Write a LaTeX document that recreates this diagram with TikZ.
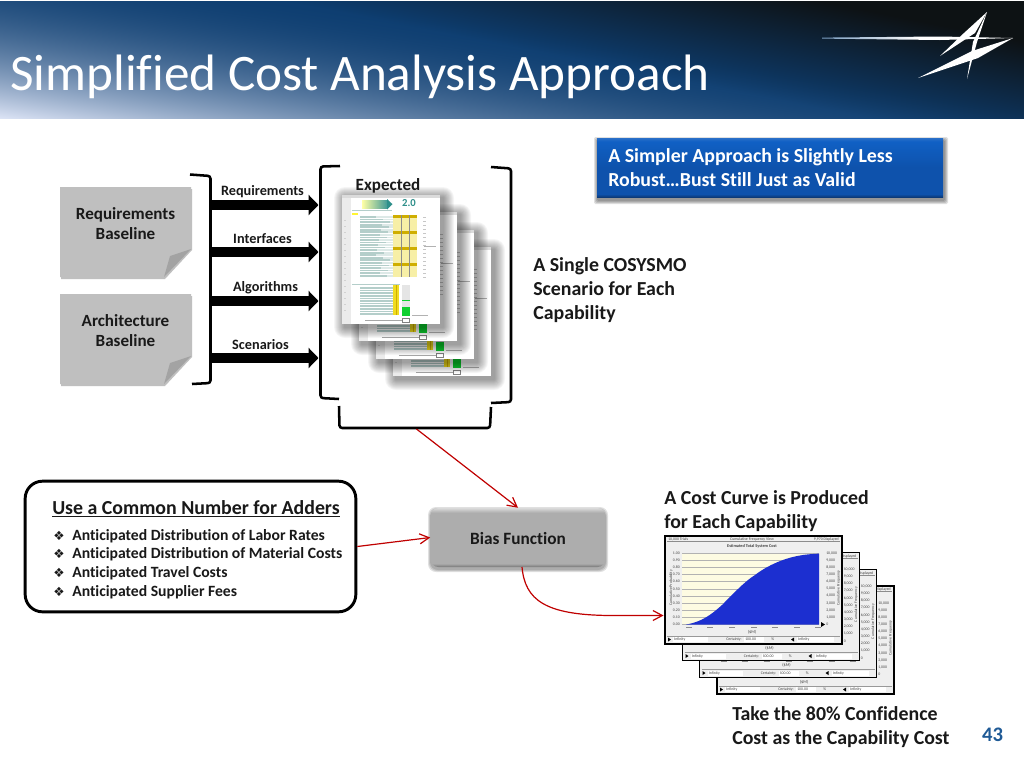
\documentclass[tikz,border=0pt]{standalone}
\usepackage{fontspec}
\setmainfont[Ligatures=CommonOff]{Carlito}
\newfontfamily\dejavu{DejaVu Sans}
\usetikzlibrary{arrows.meta,shapes.geometric}
\definecolor{notegray}{HTML}{BFBFBF}
\definecolor{foldgray}{HTML}{A3A3A3}
\definecolor{redline}{HTML}{C00000}
\definecolor{pageblue}{HTML}{1F5A96}
\definecolor{rowteal}{HTML}{B4CECA}
\definecolor{paleyellow}{HTML}{F7EFA6}
\definecolor{darkyellow}{HTML}{CFAE00}
\definecolor{brightyellow}{HTML}{F0DC20}
\definecolor{sheetgreen}{HTML}{10D030}
\definecolor{tealtext}{HTML}{2E8F8A}
\definecolor{ivory}{HTML}{FDFBE2}
\definecolor{barblue}{HTML}{1C2FD0}
\definecolor{chartgray}{HTML}{EFEFEF}
\definecolor{bevelgrayb}{HTML}{777777}
\definecolor{bevelgraym}{HTML}{ADADAD}
\definecolor{bevelgrayt}{HTML}{DADADA}
\definecolor{bevelblueb}{HTML}{0C3A78}
\definecolor{bevelbluem}{HTML}{0E52AC}
\definecolor{bevelbluen}{HTML}{1060C4}
\definecolor{bevelbluet}{HTML}{2A70C8}
% header: x y (pt) -> r g b
\pgfdeclarefunctionalshading{hdrshade}{\pgfpointorigin}{\pgfpoint{768pt}{88.5pt}}{}{
  2 copy 127.5 div exch 825 div add 1 exch sub dup 0 lt {pop 0} if dup mul
  3 1 roll
  80 div exch 250 sub 400 div add 1 sub dup 0 lt {pop 0} if dup 1 gt {pop 1} if
  dup 0.0 mul 0.05 add 2 index 1 exch sub mul 2 index 0.86 mul add
  1 index -0.17 mul 0.24 add 3 index 1 exch sub mul 3 index 0.89 mul add
  2 index -0.36 mul 0.44 add 4 index 1 exch sub mul 4 index 0.96 mul add
  5 -2 roll pop pop
}
\pgfdeclareverticalshading{bevelgray}{100bp}{
  color(0bp)=(bevelgrayb); color(25bp)=(bevelgrayb); color(28bp)=(bevelgraym);
  color(71bp)=(bevelgraym); color(75bp)=(bevelgrayt); color(100bp)=(bevelgrayt)}
\pgfdeclareverticalshading{bevelblue}{100bp}{
  color(0bp)=(bevelblueb); color(25bp)=(bevelblueb); color(27.5bp)=(bevelbluem);
  color(50bp)=(bevelbluem); color(72bp)=(bevelbluen); color(75bp)=(bevelbluet); color(100bp)=(bevelbluet)}
\tikzset{
  x=0.75pt,y=-0.75pt,
  bracket/.style={draw=black,line width=1.9pt,rounded corners=2pt},
  blockarrow/.style={line width=7.5pt,-{Triangle[width=15pt,length=7.5pt]},shorten >=0pt},
  redarrow/.style={draw=redline,line width=0.9pt,-{Straight Barb[length=7pt,width=7.5pt]}},
  boldtext/.style={font=\fontsize{14.9pt}{18pt}\selectfont\bfseries,text=black!90,inner sep=0pt},
  flowlabel/.style={font=\fontsize{10.7pt}{12pt}\selectfont\bfseries,text=black!90,inner sep=0pt},
  notelabel/.style={font=\fontsize{12.8pt}{15.6pt}\selectfont\bfseries,text=black!90,inner sep=0pt,align=center},
  bullettext/.style={font=\fontsize{11.75pt}{13pt}\selectfont\bfseries,text=black!90,inner sep=0pt,anchor=base west},
  tiny/.style={font=\fontsize{2.9pt}{3.2pt}\selectfont,text=black!75,inner sep=0pt},
}
\newif\iffrontchart
% sheet of the spreadsheet stack
\newcommand{\rowsheet}{%
  \foreach \s in {11,10,...,1}{\fill[black,opacity=0.04,rounded corners=0.75*\s pt] (345-\s,198-\s) rectangle (443+\s,327+\s);}
  \fill[white] (342,195) rectangle (440,324);
  \fill[black!14] (342,195) rectangle (440,198);
  \fill[black!8] (342,198) rectangle (351,324);
  \draw[rowteal,line width=0.7pt] (352,210) -- (392,210);
  \fill[yellow!80!white] (352,213) rectangle (358,215);
  \shade[left color=yellow!35!white,right color=tealtext!90] (362,200.5) rectangle (387,208);
  \fill[tealtext] (387,199) -- (392.5,204.2) -- (387,209.5) -- cycle;
  \fill[paleyellow] (393,215) rectangle (417,277);
  \foreach \yy in {215,231,247,263}{\fill[darkyellow] (393,\yy) rectangle (417,\yy+2.8);}
  \foreach \xx in {401,409}{\draw[black!45,line width=0.2pt] (\xx,215) -- (\xx,277);}
  \foreach \i in {0,...,23}{
    \pgfmathsetmacro{\yy}{217+2.55*\i}
    \pgfmathsetmacro{\xe}{376+mod(\i*7,15)}
    \draw[rowteal!45,line width=1.3pt] (360,\yy) -- (393,\yy);
    \draw[rowteal,line width=1.3pt] (360,\yy) -- (\xe,\yy);
  }
  \draw[rowteal,line width=0.6pt] (352,284.5) -- (400,284.5);
  \foreach \yy in {288,290.6,...,315}{\draw[rowteal,line width=1.3pt] (360,\yy) -- (393,\yy);}
  \fill[brightyellow] (393,285) rectangle (399,315);
  \draw[darkyellow,line width=0.6pt] (396,285) -- (396,315);
  \fill[black!10] (402,285) rectangle (410,307);
  \draw[sheetgreen,line width=1pt] (402,300.5) -- (410,300.5);
  \fill[sheetgreen] (402,307) rectangle (410,316);
  \draw[black!35,line width=0.7pt] (365,320) -- (402,320);
  \draw[black!50,line width=0.3pt] (402.5,318) rectangle (409,322);
  \draw[black!30,line width=0.5pt] (412,315) -- (428,315);
  \foreach \yy in {217,221,...,277}{\draw[black!22,line width=0.5pt] (423,\yy) -- (426,\yy);}
  \draw[black!30,line width=0.4pt] (424,246) -- (436,246);
  \foreach \yy in {220,226,...,312}{\draw[black!18,line width=0.5pt] (344,\yy) -- (346,\yy);}
}
% cumulative cost chart
\newcommand{\costchart}{%
  \fill[chartgray,draw=black,line width=1.1pt] (665,536) rectangle (842,644);
  \draw[black!45,line width=0.3pt] (667,541.5) -- (840,541.5);
  \node[tiny,anchor=east] (disp) at (839,539.5) {9,970 Displayed};
  \foreach \i/\rgt in {0/{10,000},1/{9,000},2/{8,000},3/{7,000},4/{6,000},5/{5,000},6/{4,000},7/{3,000},8/{2,000},9/{1,000},10/0}{
    \node[tiny,anchor=west] (yr\i) at (826,553+7.15*\i) {\rgt};
  }
  \node[tiny,rotate=90] (yrab) at (838.5,588) {Cumulative Frequency};
  \iffrontchart
    \node[tiny,anchor=west] (trials) at (668,539.5) {10,000 Trials};
    \node[tiny] (view) at (752,539.5) {Cumulative Frequency View};
    \node[tiny,font=\fontsize{3.2pt}{3.4pt}\selectfont\bfseries] (ctitle) at (752,546) {Estimated Total System Cost};
    \fill[ivory] (682,553) rectangle (819,624.5);
    \foreach \i in {0,...,10}{
      \draw[black!30,line width=0.25pt] (682,553+7.15*\i) -- (819,553+7.15*\i);
    }
    \foreach \i/\lab in {0/1.00,1/0.90,2/0.80,3/0.70,4/0.60,5/0.50,6/0.40,7/0.30,8/0.20,9/0.10,10/0.00}{
      \node[tiny,anchor=east] (yl\i) at (680,553+7.15*\i) {\lab};
    }
    \fill[barblue] (686,624.5) .. controls (702,622) and (712,614) .. (722,605) .. controls (732,595) and (745,581) .. (755,575) .. controls (768,565) and (785,558) .. (800,555.5) .. controls (808,554) and (814,554) .. (819,553.6) -- (819,624.5) -- cycle;
    \node[tiny,rotate=90] (ylab) at (671,588) {Cumulative Probability};
  \fi
  \fill[black] (821,622) -- (825,624.5) -- (821,627) -- cycle;
  \foreach \xx in {689,710,732,754,775,797,818}{\draw[black!45,line width=0.5pt] (\xx-3,627.5) -- (\xx+3,627.5);}
  \node[tiny,font=\fontsize{3.2pt}{3.4pt}\selectfont] (mm) at (752,632) {(\$M)};
  \draw[black!40,line width=0.3pt] (667,636) -- (840,636);
  \fill[black] (668,637.5) -- (671,639.5) -- (668,641.5) -- cycle;
  \fill[white] (673,637) rectangle (708,642);
  \node[tiny,anchor=west] (inf1) at (674,639.5) {Infinity};
  \fill[white] (744,637) rectangle (764,642);
  \node[tiny,anchor=east] (cert) at (742,639.5) {Certainty:};
  \node[tiny,anchor=west] (certv) at (745,639.5) {100.00};
  \node[tiny,anchor=west] (certp) at (771,639.5) {\%};
  \fill[black] (794,637.5) -- (791,639.5) -- (794,641.5) -- cycle;
  \fill[white] (797,637) rectangle (834,642);
  \node[tiny,anchor=west] (inf2) at (798,639.5) {Infinity};
}
\begin{document}
\begin{tikzpicture}
\useasboundingbox (0,0) rectangle (1024,768);
\fill[white] (0,0) rectangle (1024,768);
% header
\node[inner sep=0pt,outer sep=0pt,anchor=north west] (banner) at (0,0) {\pgfuseshading{hdrshade}};
\node[font=\fontsize{38.4pt}{40pt}\selectfont,text=white,anchor=base west,inner sep=0pt] (title) at (10,90) {Simplified Cost Analysis Approach};
% logo
\shade[left color=pageblue!60!white,right color=white,middle color=white] (822,37.6) -- (940,36.5) -- (1013,38) -- (940,40) -- (822,38.6) -- cycle;
\fill[white] (987,12) -- (975,33) -- (940,56) -- (964,33) -- cycle;
\fill[white] (987,12) -- (977,42) -- (967,79) -- (973,42) -- cycle;
\fill[white] (1013,38) -- (978,58) -- (918,78) -- (972,51) -- cycle;
% notes
\fill[black!25] (61,189) -- (192,189) -- (192,250) -- (165,279) -- (61,279) -- cycle;
\fill[notegray] (60,187) -- (191,187) -- (191,249) -- (164,277) -- (60,277) -- cycle;
\fill[foldgray] (191,249) -- (170,256) -- (164,277) -- cycle;
\node[notelabel] (reqtext) at (125.5,223.5) {Requirements\\Baseline};
\fill[black!25] (61,296) -- (192,296) -- (192,357) -- (165,386) -- (61,386) -- cycle;
\fill[notegray] (60,294) -- (191,294) -- (191,356) -- (164,384) -- (60,384) -- cycle;
\fill[foldgray] (191,356) -- (170,363) -- (164,384) -- cycle;
\node[notelabel] (archtext) at (125.5,330.5) {Architecture\\Baseline};
% inputs bracket
\draw[bracket] (190,174.5) -- (210.5,176) -- (210.5,383) -- (192,384);
% page brackets
\draw[bracket] (340,166) -- (320.5,166.5) -- (320.5,398) -- (339,399);
\draw[bracket] (491,167) -- (511,168.5) -- (511,402) -- (491,403);
\draw[bracket] (339,406) -- (339.5,428) -- (490,428) -- (491,407);
% flow arrows
\coordinate (fromA) at (211,205);
\coordinate (fromB) at (211,252);
\coordinate (fromC) at (211,301);
\coordinate (fromD) at (211,358);
\coordinate (toA) at (318.5,205);
\coordinate (toB) at (318.5,252);
\coordinate (toC) at (318.5,301);
\coordinate (toD) at (318.5,358);
\draw[blockarrow] (fromA) -- (toA);
\draw[blockarrow] (fromB) -- (toB);
\draw[blockarrow] (fromC) -- (toC);
\draw[blockarrow] (fromD) -- (toD);
\node[flowlabel] (lreq) at (262.5,191.5) {Requirements};
\node[flowlabel] (lint) at (262.5,238.5) {Interfaces};
\node[flowlabel] (lalg) at (265.5,288) {Algorithms};
\node[flowlabel] (lsce) at (260.5,344.5) {Scenarios};
% stacked sheets
\begin{scope}[shift={(51,52)}]\rowsheet\end{scope}
\begin{scope}[shift={(34,35)}]\rowsheet\end{scope}
\begin{scope}[shift={(17,17)}]\rowsheet\end{scope}
\begin{scope}\rowsheet\end{scope}
\node[font=\fontsize{8pt}{9pt}\selectfont\bfseries,text=tealtext,inner sep=0pt] (ver) at (409,203.5) {2.0};
\node[boldtext,font=\fontsize{12.8pt}{14pt}\selectfont\bfseries] (expected) at (388,185.5) {Expected};
% captions
\node[boldtext,anchor=north west,align=left] (single) at (533,257.5) {A Single COSYSMO\\Scenario for Each\\Capability};
% blue box
\foreach \s in {4,3,2,1}{\fill[black,opacity=0.12,rounded corners=1pt] (597+1-\s,138+3-\s) rectangle (943+1+\s,197+3+\s);}
\path[shading=bevelblue] (597,138) rectangle (943,197);
\node[inner sep=0pt,outer sep=0pt,minimum width=259.5pt,minimum height=44pt] (simple) at (770,167.5) {};
\node[boldtext,text=white,anchor=west,align=left] (simpletext) at (608,167.5) {A Simpler Approach is Slightly Less\\Robust…Bust Still Just as Valid};
% adders box
\node[draw=black,line width=2.2pt,rounded corners=13pt,fill=white,minimum width=248pt,minimum height=98pt,inner sep=0pt] (adders) at (190.5,546.5) {};
\node[boldtext,anchor=base west] (addhead) at (52,514) {\underline{Use a Common Number for Adders}};
\foreach \n/\yy/\tx in {a/540/Anticipated Distribution of Labor Rates,b/558/Anticipated Distribution of Material Costs,c/577/Anticipated Travel Costs,d/596/Anticipated Supplier Fees}{
  \node[bullettext,font=\fontsize{9.5pt}{11pt}\selectfont\dejavu] (mark\n) at (53,\yy) {❖};
  \node[bullettext] (item\n) at (72,\yy) {\tx};
}
% bias box
\foreach \s in {3,2,1}{\fill[black,opacity=0.12,rounded corners=6pt] (431-\s,510-\s) rectangle (605+\s,569+\s);}
\path[shading=bevelgray,rounded corners=6pt] (430.5,508) rectangle (605.5,567);
\node[minimum width=131.25pt,minimum height=44.25pt,inner sep=0pt] (bias) at (518,537.5) {};
\node[boldtext,font=\fontsize{12.95pt}{14pt}\selectfont\bfseries] (biastext) at (518,538) {Bias Function};
% charts
\frontchartfalse
\begin{scope}[shift={(52,50)},name prefix=d-]\costchart\end{scope}
\begin{scope}[shift={(34.5,33.5)},name prefix=c-]\costchart\end{scope}
\begin{scope}[shift={(17.5,16.5)},name prefix=b-]\costchart\end{scope}
\frontcharttrue
\begin{scope}[name prefix=a-]\costchart\end{scope}
\coordinate (chartin) at (663.5,615.5);
\coordinate (bracketout) at (416.5,429);
\coordinate (biasout) at (522,567);
% red connectors
\draw[redarrow] (bracketout) -- (bias.north);
\draw[redarrow] (adders.east) -- (bias.west);
\draw[redarrow] (biasout) .. controls (525,600) and (545,615) .. (610,615.5) -- (chartin);
% captions
\node[boldtext,anchor=north west,align=left] (curvetext) at (664,490.5) {A Cost Curve is Produced\\for Each Capability};
\node[boldtext,anchor=north west,align=left] (taketext) at (732,706.5) {Take the 80\% Confidence\\Cost as the Capability Cost};
\node[boldtext,font=\fontsize{15.5pt}{18pt}\selectfont\bfseries,text=pageblue] (pagenum) at (992.5,734.5) {43};
\end{tikzpicture}
\end{document}
